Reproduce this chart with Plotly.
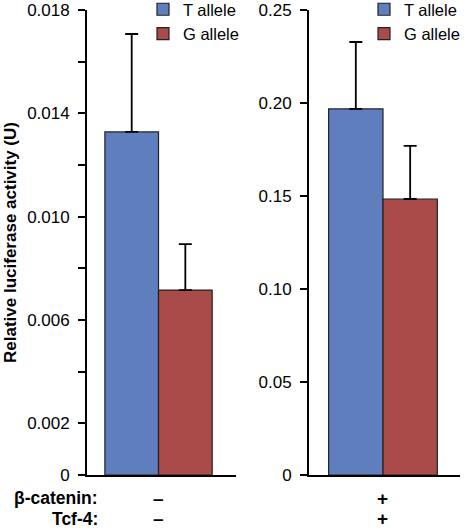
import plotly.graph_objects as go

# ---- data ----
alleles = ["T allele", "G allele"]
colors = ["#5F7EBE", "#A94B48"]
left_values = [0.01328, 0.00716]
left_errors = [0.00379, 0.00178]
right_values = [0.1968, 0.1484]
right_errors = [0.0360, 0.0285]
beta_catenin = ["–", "+"]
tcf4 = ["–", "+"]
left_ticks = [0, 0.002, 0.004, 0.006, 0.008, 0.010, 0.012, 0.014, 0.016, 0.018]
left_ticktext = ["0", "0.002", "", "0.006", "", "0.010", "", "0.014", "", "0.018"]
right_ticks = [0, 0.05, 0.10, 0.15, 0.20, 0.25]
right_ticktext = ["0", "0.05", "0.10", "0.15", "0.20", "0.25"]

W, H = 465, 531
FONT = "Liberation Sans, Arial, Helvetica, sans-serif"

fig = go.Figure()
for i, name in enumerate(alleles):
    fig.add_trace(go.Bar(
        x=[0], y=[left_values[i]], name=name, xaxis="x", yaxis="y",
        marker=dict(color=colors[i], line=dict(color="#222", width=1.2)),
        error_y=dict(type="data", array=[left_errors[i]], arrayminus=[0], symmetric=False,
                     color="black", thickness=1.8, width=6.5),
        legend="legend",
    ))
for i, name in enumerate(alleles):
    fig.add_trace(go.Bar(
        x=[0], y=[right_values[i]], name=name, xaxis="x2", yaxis="y2",
        marker=dict(color=colors[i], line=dict(color="#222", width=1.2)),
        error_y=dict(type="data", array=[right_errors[i]], arrayminus=[0], symmetric=False,
                     color="black", thickness=1.8, width=6.5),
        legend="legend2",
    ))

ydom = [(H - 475) / H, (H - 10) / H]
axis_common = dict(showline=True, linecolor="black", linewidth=1.8, showgrid=False,
                   zeroline=False, ticks="outside", ticklen=7, tickwidth=1.8,
                   tickcolor="black", ticklabelstandoff=5,
                   tickfont=dict(size=17, color="black", family=FONT))
fig.update_layout(
    width=W, height=H, margin=dict(l=0, r=0, t=0, b=0, autoexpand=False),
    paper_bgcolor="white", plot_bgcolor="white",
    barmode="group", bargap=0.28, bargroupgap=0,
    font=dict(family=FONT, color="black"),
    xaxis=dict(domain=[87 / W, 236 / W], range=[-0.48, 0.52], showline=True,
               linecolor="black", linewidth=1.8, showticklabels=False, ticks="",
               showgrid=False, zeroline=False),
    xaxis2=dict(domain=[309 / W, 460 / W], range=[-0.49, 0.51], showline=True,
                linecolor="black", linewidth=1.8, showticklabels=False, ticks="",
                showgrid=False, zeroline=False, anchor="y2"),
    yaxis=dict(domain=ydom, range=[0, 0.018], tickvals=left_ticks, ticktext=left_ticktext,
               title=dict(text="<b>Relative luciferase activity (U)</b>",
                          font=dict(size=17, family=FONT), standoff=6),
               **axis_common),
    yaxis2=dict(domain=ydom, range=[0, 0.25], tickvals=right_ticks, ticktext=right_ticktext,
                anchor="x2", **axis_common),
    legend=dict(x=143 / W, y=1 + 8 / H, xanchor="left", yanchor="top", bgcolor="rgba(0,0,0,0)",
                font=dict(size=16.5, family=FONT), tracegroupgap=0),
    legend2=dict(x=364 / W, y=1 + 8 / H, xanchor="left", yanchor="top", bgcolor="rgba(0,0,0,0)",
                 font=dict(size=16.5, family=FONT), tracegroupgap=0),
    showlegend=True,
)

annotations = [
    dict(text="<b>β-catenin:</b>", x=100 / W, y=(H - 498) / H, xref="paper", yref="paper",
         xanchor="right", yanchor="middle"),
    dict(text="<b>Tcf-4:</b>", x=100 / W, y=0, xref="paper", yref="paper",
         xanchor="right", yanchor="bottom"),
]
for a in annotations:
    a["showarrow"] = False
    a["font"] = dict(size=17.5, family=FONT, color="black")
xrefs = ["x", "x2"]
for j in range(2):
    annotations.append(dict(text="<b>" + beta_catenin[j] + "</b>", x=0, xref=xrefs[j],
                            y=(H - 498) / H, yref="paper", showarrow=False,
                            xanchor="center", yanchor="middle",
                            font=dict(size=19, family=FONT, color="black")))
    annotations.append(dict(text="<b>" + tcf4[j] + "</b>", x=0, xref=xrefs[j],
                            y=0, yref="paper", showarrow=False,
                            xanchor="center", yanchor="bottom",
                            font=dict(size=19, family=FONT, color="black")))
fig.update_layout(annotations=annotations)

fig.write_html("out.html", config={"displayModeBar": False},
               post_script="document.body.style.margin='0';")
